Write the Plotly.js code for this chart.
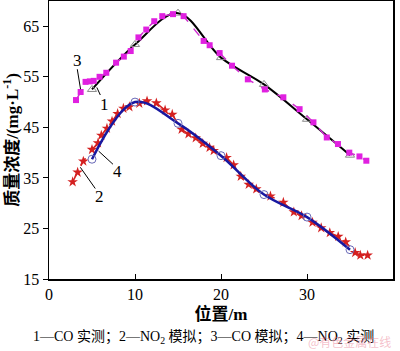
<!DOCTYPE html>
<html><head><meta charset="utf-8">
<script src="https://cdn.plot.ly/plotly-3.0.1.min.js"></script>
<style>html,body{margin:0;padding:0;background:#fff}#chart{width:400px;height:351px}</style>
</head><body><div id="chart"></div>
<script>
// CO measured (1)
const coMeasX = [5, 10, 15, 20, 25, 30, 35];
const coMeasY = [52.5, 61.4, 67.6, 58.8, 53.5, 46.6, 39.5];
// CO simulated (3)
const coSimX = [3.14, 3.68, 4.25, 4.75, 5.2, 5.88, 6.66, 7.8, 8.7, 9.5, 10.4, 11.31, 12.24, 13.17, 14.42, 15.65, 17.98, 18.68, 19.84, 21.28, 23.12, 25.1, 27.25, 29.14, 30.75, 32.3, 33.6, 34.92, 36.1, 36.9];
const coSimY = [50.4, 52.0, 54.0, 54.1, 54.2, 55.0, 55.8, 57.8, 59.0, 60.1, 62.8, 64.35, 66.0, 67.0, 67.4, 67.0, 62.1, 61.25, 59.7, 57.2, 54.5, 52.5, 50.95, 48.6, 46.0, 43.0, 41.7, 40.0, 39.25, 38.4];
// NO2 simulated (2)
const no2SimX = [2.75, 3.33, 3.99, 5.0, 5.7, 6.08, 6.74, 7.33, 7.98, 8.65, 9.35, 10.5, 11.4, 12.48, 13.5, 14.33, 15.42, 16.22, 17.06, 17.88, 18.67, 19.15, 20.65, 21.47, 22.3, 23.22, 24.1, 25.75, 27.25, 28.47, 29.37, 30.64, 31.65, 32.65, 33.63, 34.5, 35.6, 36.2, 37.05];
const no2SimY = [34.2, 36.1, 38.3, 40.6, 41.9, 43.4, 44.8, 46.2, 47.7, 48.75, 49.05, 49.75, 50.2, 49.8, 48.4, 47.55, 44.6, 43.7, 42.9, 41.8, 41.0, 40.4, 39.0, 37.55, 35.3, 33.7, 32.8, 31.4, 30.15, 28.25, 27.5, 26.2, 25.1, 24.15, 23.4, 22.3, 20.2, 19.7, 19.7];
// NO2 measured (4)
const no2MeasX = [5, 10, 15, 20, 25, 30, 35];
const no2MeasY = [38.7, 50.0, 45.8, 39.4, 31.7, 27.25, 20.8];

const xTicks = [0, 10, 20, 30, 40];
const yTicks = [15, 25, 35, 45, 55, 65];

const serif = 'Liberation Serif, "Times New Roman", serif';
const cjk = 'Liberation Serif, "Noto Sans CJK SC", serif';

const traces = [
  {x: coMeasX, y: coMeasY, mode: 'lines+markers', line: {color: '#000', width: 2, shape: 'spline'},
   marker: {symbol: 'triangle-up-open', size: 8, color: '#8a8a8a', line: {width: 1}}},
  {x: coSimX, y: coSimY, mode: 'lines+markers', line: {color: '#d030d0', width: 1.5, dash: 'dash'},
   marker: {symbol: 'square', size: 6, color: '#e020e0'}},
  {x: no2SimX, y: no2SimY, mode: 'lines+markers', line: {color: '#d42020', width: 1.5, dash: 'dash'},
   marker: {symbol: 'star', size: 8, color: '#d42020'}},
  {x: no2MeasX, y: no2MeasY, mode: 'lines+markers', line: {color: '#1818a0', width: 2.5, shape: 'spline'},
   marker: {symbol: 'circle-open', size: 8, color: '#6a6ab8', line: {width: 1}}}
];

// curve labels: text position and leader line (data coords)
const labels = [
  {t: '3', tx: 3.26, ty: 58.3, x0: 3.29, y0: 56.5, x1: 3.67, y1: 52.55},
  {t: '1', tx: 6.43, ty: 49.6, x0: 5.97, y0: 51.4, x1: 5.56, y1: 52.9},
  {t: '4', tx: 7.98, ty: 36.3, x0: 7.44, y0: 37.7, x1: 5.77, y1: 40.3},
  {t: '2', tx: 5.88, ty: 31.4, x0: 5.38, y0: 32.9, x1: 3.64, y1: 37.1}
];

const annotations = labels.map(l => ({x: l.tx, y: l.ty, text: l.t, showarrow: false,
  font: {family: serif, size: 17, color: '#000'}}));
annotations.push(
  {xref: 'paper', yref: 'paper', x: 0.448, y: -0.21, xanchor: 'center', yanchor: 'middle', showarrow: false,
   text: '1—CO 实测；2—NO<sub>2</sub> 模拟；3—CO 模拟；4—NO<sub>2</sub> 实测',
   font: {family: cjk, size: 14, color: '#000'}},
  {xref: 'paper', yref: 'paper', x: 1.0, y: -0.225, xanchor: 'right', yanchor: 'middle', showarrow: false,
   text: '@有色金属在线', font: {family: '"Noto Sans CJK SC", sans-serif', size: 12, color: 'rgba(235,130,150,0.5)'}}
);

const shapes = labels.map(l => ({type: 'line', xref: 'x', yref: 'y', x0: l.x0, y0: l.y0, x1: l.x1, y1: l.y1,
  line: {color: '#000', width: 1}}));

const layout = {
  width: 400, height: 351,
  margin: {l: 49, r: 7, t: 1, b: 72},
  paper_bgcolor: '#fff', plot_bgcolor: '#fff',
  showlegend: false,
  xaxis: {range: [0, 40], tickvals: xTicks, ticks: 'inside', ticklen: 5, tickcolor: '#000',
          showgrid: false, zeroline: false, showline: true, linecolor: '#000', linewidth: 1.5, mirror: true,
          tickfont: {family: serif, size: 16, color: '#000'},
          title: {text: '位置/m', font: {family: cjk, size: 17, color: '#000', weight: 'bold'}, standoff: 6}},
  yaxis: {range: [15, 70], tickvals: yTicks, ticks: 'outside', ticklen: 5, tickcolor: '#000',
          showgrid: false, zeroline: false, showline: true, linecolor: '#000', linewidth: 1.5, mirror: true,
          tickfont: {family: serif, size: 16, color: '#000'},
          title: {text: '质量浓度/(mg·L<sup>-1</sup>)', font: {family: cjk, size: 17, color: '#000', weight: 'bold'}, standoff: 6}},
  annotations: annotations,
  shapes: shapes
};

Plotly.newPlot('chart', traces, layout, {displayModeBar: false, staticPlot: true});
</script></body></html>
